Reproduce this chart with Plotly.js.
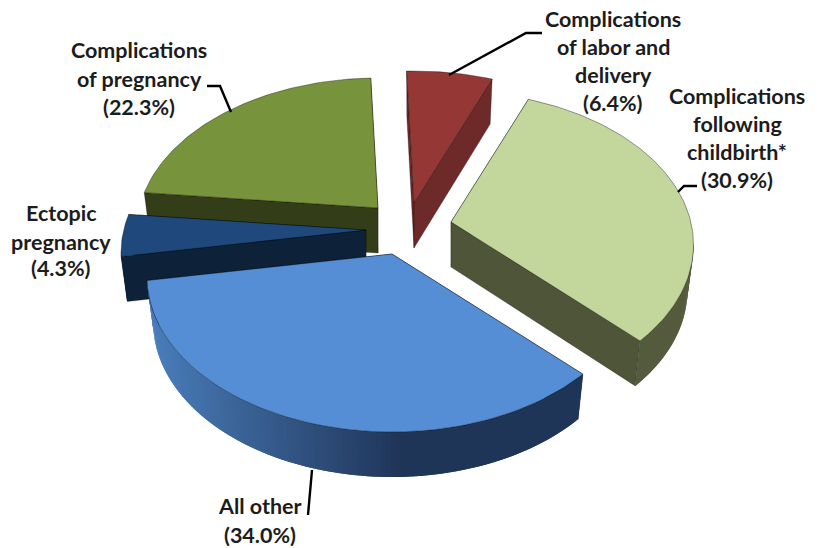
<!DOCTYPE html>
<html>
<head>
<meta charset="utf-8">
<script src="https://cdn.plot.ly/plotly-3.0.1.min.js"></script>
<style>html,body{margin:0;padding:0;background:#fff}#c{width:817px;height:548px}</style>
</head>
<body>
<div id="c"></div>
<script>
// Data (clockwise from the top)
var categories = ["Complications of labor and delivery", "Complications following childbirth*", "All other", "Ectopic pregnancy", "Complications of pregnancy"];
var values = [6.4, 30.9, 34.0, 4.3, 22.3];
var labelLines = [
  ["Complications", "of labor and", "delivery", "(6.4%)"],
  ["Complications", "following", "childbirth*", "(30.9%)"],
  ["All other", "(34.0%)"],
  ["Ectopic", "pregnancy", "(4.3%)"],
  ["Complications", "of pregnancy", "(22.3%)"]
];
// Styles
var topColors = ["#953735", "#C3D69B", "#558ED5", "#1F497D", "#77933C"];
var faceColors = ["#6E2A28", "#4F5539", "#1F3558", "#0D2138", "#333D17"];
var wallLeft = ["#6E2A28", "#555B3D", [74, 126, 187], "#0D2138", "#333D17"];
var wallRight = ["#6E2A28", "#555B3D", [31, 53, 88], "#0D2138", "#333D17"];
// Layout: where each exploded slice sits, and where its label goes
var centerX = [414, 451, 392, 366, 378];
var centerY = [226, 245, 277, 253, 231];
var sliceScale = [1, 0.99, 1, 1, 0.985];
var labelX = [613, 737, 260, 61, 139];
var labelY = [[19, 47, 75, 103], [96, 124, 152, 180], [506, 535], [213, 242, 268], [50, 79, 107]];
var leaderX = [[449, 526, 542], [678, 684, 697], [312, 308], null, [231, 220, 207]];
var leaderY = [[75, 33, 33], [192, 186, 186], [470, 515], null, [112, 86, 86]];
var drawOrder = [0, 4, 3, 1, 2];

var rx = 245, ry = 155, depth = 45, shrink = 0.975, startDeg = -2;
var k = -23 / ry; // perspective: the pie's centre sits above the middle of the ellipse
var total = values.reduce(function (a, b) { return a + b; }, 0);

function project(deg) {
  var a = deg * Math.PI / 180, x = Math.sin(a), y = -Math.cos(a);
  var d = 1 + k * y;
  return { X: x * Math.sqrt(1 - k * k) / d, Y: (y + k) / d };
}
function topPt(i, p) {
  var s = sliceScale[i];
  return [centerX[i] + s * rx * p.X, centerY[i] + ry * k + s * ry * (p.Y - k)];
}
function botPt(i, p) {
  var s = sliceScale[i];
  return [centerX[i] + s * rx * shrink * p.X, centerY[i] + ry * k + s * ry * (p.Y - k) + depth];
}
function rgb(c) { return "rgb(" + c.map(Math.round).join(",") + ")"; }

function poly(pts, fill, line, lw) {
  return {
    type: "scatter", mode: "lines", fill: "toself", fillcolor: fill,
    x: pts.map(function (p) { return p[0]; }),
    y: pts.map(function (p) { return p[1]; }),
    line: { color: line, width: lw }, hoverinfo: "skip", showlegend: false
  };
}

var starts = [], acc = startDeg;
values.forEach(function (v) { starts.push(acc); acc += v / total * 360; });

var traces = [];
drawOrder.forEach(function (i) {
  var a0 = starts[i], a1 = a0 + values[i] / total * 360;
  var apexT = [centerX[i], centerY[i] + ry * k];
  var apexB = [apexT[0], apexT[1] + depth];
  var steps = [], d;
  for (d = a0; d < a1; d += 1) steps.push(d);
  steps.push(a1);
  // radial faces, the one further back first
  [a0, a1].sort(function (m, n) { return project(m).Y - project(n).Y; }).forEach(function (e) {
    var p = project(e);
    traces.push(poly([apexT, topPt(i, p), botPt(i, p), apexB, apexT], faceColors[i], "rgba(0,0,0,0.45)", 0.6));
  });
  // outer wall, front-facing part only; each strip overlaps the next one
  for (var s = steps.length - 2; s >= 0; s--) {
    var p0 = project(steps[s]), p1 = project(steps[Math.min(s + 2, steps.length - 1)]);
    if (project(steps[s]).Y < 0 && project(steps[s + 1]).Y < 0) continue;
    var col;
    if (Array.isArray(wallLeft[i])) {
      var px = topPt(i, p0)[0];
      var t = Math.min(1, Math.max(0, (px - 150) / 260));
      col = rgb([0, 1, 2].map(function (n) { return wallLeft[i][n] + (wallRight[i][n] - wallLeft[i][n]) * t; }));
    } else {
      col = wallLeft[i];
    }
    traces.push(poly([topPt(i, p0), topPt(i, p1), botPt(i, p1), botPt(i, p0), topPt(i, p0)], col, "rgba(0,0,0,0)", 0));
  }
  // top face
  var face = [apexT];
  steps.forEach(function (e) { face.push(topPt(i, project(e))); });
  face.push(apexT);
  traces.push(poly(face, topColors[i], "rgba(0,0,0,0.55)", 0.7));
});

var annotations = [];
labelLines.forEach(function (lines, i) {
  lines.forEach(function (txt, j) {
    annotations.push({
      text: "<b>" + txt + "</b>", x: labelX[i], y: labelY[i][j], xref: "x", yref: "y",
      showarrow: false, xanchor: "center", yanchor: "middle",
      font: { family: "Lato, 'Open Sans', sans-serif", size: 21.5, color: "#1c1c1c" }
    });
  });
});

var shapes = [];
leaderX.forEach(function (xs, i) {
  if (!xs) return;
  var path = xs.map(function (x, j) { return (j ? "L" : "M") + x + "," + leaderY[i][j]; }).join(" ");
  shapes.push({ type: "path", path: path, xref: "x", yref: "y", line: { color: "#000", width: 2.4 } });
});

var layout = {
  width: 817, height: 548,
  margin: { l: 0, r: 0, t: 0, b: 0 },
  paper_bgcolor: "#fff", plot_bgcolor: "#fff",
  showlegend: false,
  xaxis: { range: [0, 817], visible: false, fixedrange: true },
  yaxis: { range: [548, 0], visible: false, fixedrange: true },
  annotations: annotations, shapes: shapes
};
Plotly.newPlot("c", traces, layout, { displayModeBar: false, staticPlot: true });
</script>
</body>
</html>
